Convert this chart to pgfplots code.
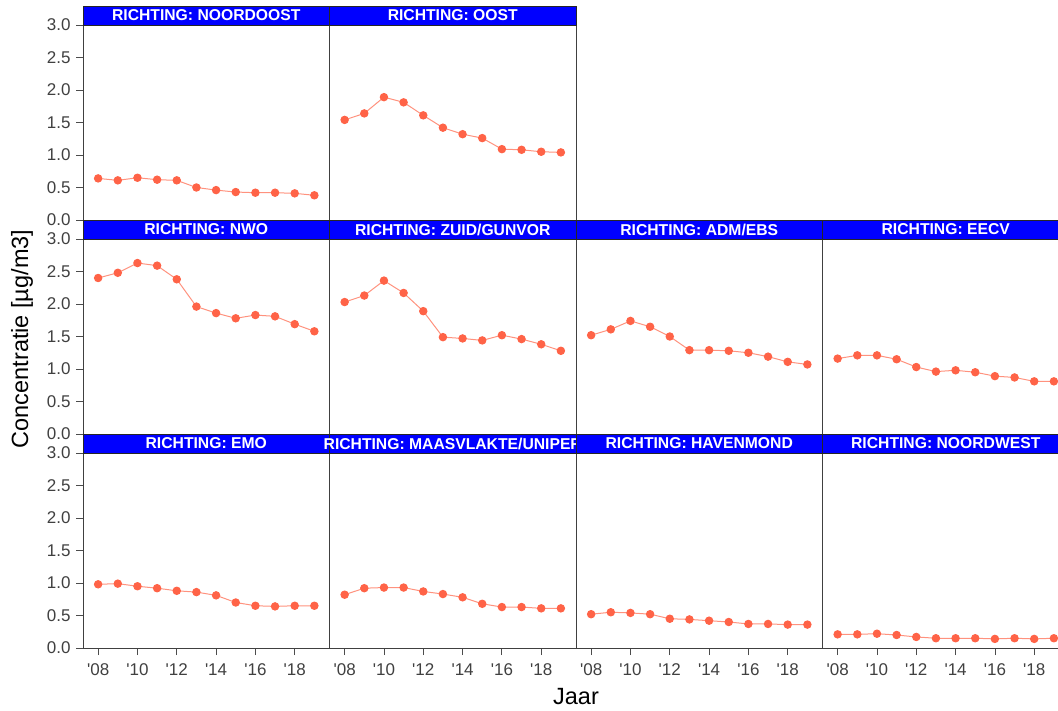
\documentclass[border=0pt]{standalone}
\usepackage{pgfplots}
\pgfplotsset{compat=1.18}
\usepackage{fontspec}
\setmainfont{Liberation Sans}
\definecolor{tomato}{HTML}{FF6347}
\definecolor{stripblue}{HTML}{0000FF}
\definecolor{ticktext}{HTML}{404040}
\pgfplotsset{
  panel/.style={
    anchor=south west, scale only axis, width=246.5pt, height=195pt,
    xmin=2007.23, xmax=2019.77, ymin=0, ymax=3,
    axis line style={black!75, line width=0.8pt},
    tick style={black!70, line width=0.8pt},
    tick align=outside, tick pos=left, major tick length=7pt,
    xtick=\empty, ytick=\empty,
    ticklabel style={font=\fontsize{17}{17}\selectfont, text=ticktext},
    yticklabel style={xshift=-2pt},
    xticklabel style={yshift=-5pt},
    clip=false,
  },
  lefty/.style={ytick={0,0.5,1,1.5,2,2.5,3}, yticklabels={0.0,0.5,1.0,1.5,2.0,2.5,3.0}},
  bottomx/.style={xtick={2008,2010,2012,2014,2016,2018},
    xticklabels={\textquotesingle08,\textquotesingle10,\textquotesingle12,\textquotesingle14,\textquotesingle16,\textquotesingle18}},
  series/.style={color=tomato!70!white, line width=1pt, mark=*, mark size=3.7pt,
    mark options={fill=tomato, draw=tomato}},
}
\newcommand{\strip}[3]{%
  \draw[black!85, line width=0.8pt, fill=stripblue] (#1pt,{#2pt+195pt}) rectangle ({#1pt+246.5pt},{#2pt+214pt});
  \node[text=white, inner sep=0pt, font=\bfseries\fontsize{15.7}{15.7}\selectfont] at ({#1pt+123.25pt},{#2pt+204.5pt}) {RICHTING: #3};
}
\begin{document}
\begin{tikzpicture}
% Row 1
\begin{axis}[panel, lefty, at={(83pt,490pt)}]
\addplot[series] coordinates {(2008,0.64) (2009,0.61) (2010,0.65) (2011,0.62) (2012,0.61) (2013,0.50) (2014,0.46) (2015,0.43) (2016,0.42) (2017,0.42) (2018,0.41) (2019,0.38)};
\end{axis}
\strip{83}{490}{NOORDOOST}
\begin{axis}[panel, at={(329.5pt,490pt)}]
\addplot[series] coordinates {(2008,1.54) (2009,1.64) (2010,1.89) (2011,1.81) (2012,1.61) (2013,1.42) (2014,1.32) (2015,1.26) (2016,1.09) (2017,1.08) (2018,1.05) (2019,1.04)};
\end{axis}
\strip{329.5}{490}{OOST}
% Row 2
\begin{axis}[panel, lefty, at={(83pt,276pt)}]
\addplot[series] coordinates {(2008,2.40) (2009,2.48) (2010,2.63) (2011,2.59) (2012,2.38) (2013,1.96) (2014,1.86) (2015,1.78) (2016,1.83) (2017,1.81) (2018,1.69) (2019,1.58)};
\end{axis}
\strip{83}{276}{NWO}
\begin{axis}[panel, at={(329.5pt,276pt)}]
\addplot[series] coordinates {(2008,2.03) (2009,2.13) (2010,2.36) (2011,2.17) (2012,1.89) (2013,1.49) (2014,1.47) (2015,1.44) (2016,1.52) (2017,1.46) (2018,1.38) (2019,1.28)};
\end{axis}
\strip{329.5}{276}{ZUID/GUNVOR}
\begin{axis}[panel, at={(576pt,276pt)}]
\addplot[series] coordinates {(2008,1.52) (2009,1.61) (2010,1.74) (2011,1.65) (2012,1.50) (2013,1.29) (2014,1.29) (2015,1.28) (2016,1.25) (2017,1.19) (2018,1.11) (2019,1.07)};
\end{axis}
\strip{576}{276}{ADM/EBS}
\begin{axis}[panel, at={(822.5pt,276pt)}]
\addplot[series] coordinates {(2008,1.16) (2009,1.21) (2010,1.21) (2011,1.15) (2012,1.03) (2013,0.96) (2014,0.98) (2015,0.95) (2016,0.89) (2017,0.87) (2018,0.81) (2019,0.81)};
\end{axis}
\strip{822.5}{276}{EECV}
% Row 3
\begin{axis}[panel, lefty, bottomx, at={(83pt,62pt)}]
\addplot[series] coordinates {(2008,0.98) (2009,0.99) (2010,0.95) (2011,0.92) (2012,0.88) (2013,0.86) (2014,0.81) (2015,0.70) (2016,0.65) (2017,0.64) (2018,0.65) (2019,0.65)};
\end{axis}
\strip{83}{62}{EMO}
\begin{axis}[panel, bottomx, at={(329.5pt,62pt)}]
\addplot[series] coordinates {(2008,0.82) (2009,0.92) (2010,0.93) (2011,0.93) (2012,0.87) (2013,0.83) (2014,0.78) (2015,0.68) (2016,0.63) (2017,0.63) (2018,0.61) (2019,0.61)};
\end{axis}
\strip{329.5}{62}{MAASVLAKTE/UNIPER}
\begin{axis}[panel, bottomx, at={(576pt,62pt)}]
\addplot[series] coordinates {(2008,0.52) (2009,0.55) (2010,0.54) (2011,0.52) (2012,0.45) (2013,0.44) (2014,0.42) (2015,0.40) (2016,0.37) (2017,0.37) (2018,0.36) (2019,0.36)};
\end{axis}
\strip{576}{62}{HAVENMOND}
\begin{axis}[panel, bottomx, at={(822.5pt,62pt)}]
\addplot[series] coordinates {(2008,0.21) (2009,0.21) (2010,0.22) (2011,0.20) (2012,0.17) (2013,0.15) (2014,0.15) (2015,0.15) (2016,0.14) (2017,0.15) (2018,0.14) (2019,0.15)};
\end{axis}
\strip{822.5}{62}{NOORDWEST}
% common labels
\node[rotate=90, font=\fontsize{23.5}{23.5}\selectfont] at (22pt,371pt) {Concentratie [µg/m3]};
\node[font=\fontsize{23.5}{23.5}\selectfont] at (576pt,13pt) {Jaar};
\pgfresetboundingbox
\useasboundingbox (0pt,0pt) rectangle (1058pt,710pt);
\end{tikzpicture}
\end{document}
